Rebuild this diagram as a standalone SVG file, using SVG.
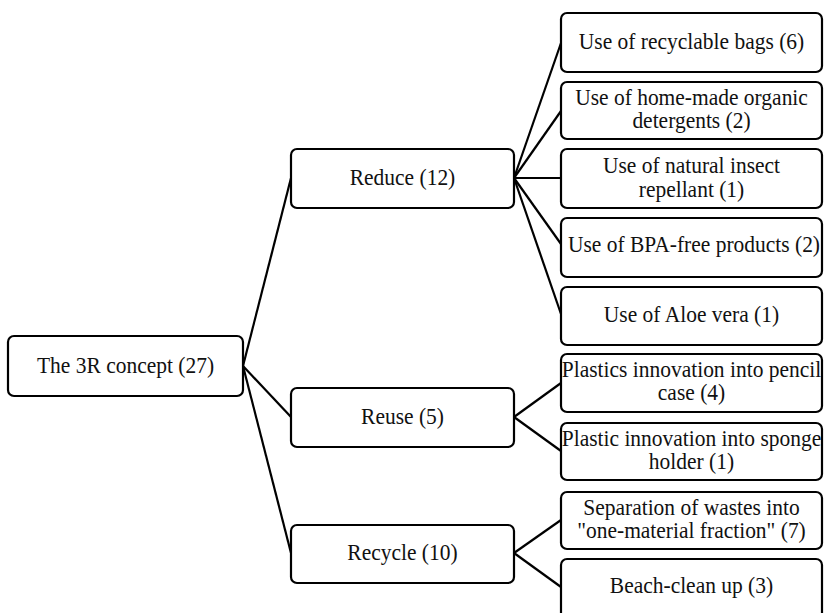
<svg xmlns="http://www.w3.org/2000/svg" width="824" height="613" viewBox="0 0 824 613">
<style>
.box{fill:#fff;stroke:#000;stroke-width:2.2}
.t{font-family:"Liberation Serif","Times New Roman",serif;font-size:24px;fill:#111;text-anchor:middle}
.c{stroke:#000;stroke-width:2.2;fill:none}
</style>
<rect width="824" height="613" fill="#fff"/>
<g id="connectors">
<line class="c" x1="243" y1="366" x2="291" y2="178"/>
<line class="c" x1="243" y1="366" x2="291" y2="417"/>
<line class="c" x1="243" y1="366" x2="291" y2="553"/>
<line class="c" x1="514" y1="178" x2="561" y2="43"/>
<line class="c" x1="514" y1="178" x2="561" y2="111"/>
<line class="c" x1="514" y1="178" x2="561" y2="178"/>
<line class="c" x1="514" y1="178" x2="561" y2="244"/>
<line class="c" x1="514" y1="178" x2="561" y2="314"/>
<line class="c" x1="514" y1="417" x2="561" y2="383"/>
<line class="c" x1="514" y1="417" x2="561" y2="451"/>
<line class="c" x1="514" y1="553" x2="561" y2="520"/>
<line class="c" x1="514" y1="553" x2="561" y2="587"/>
</g>
<g id="root">
<rect class="box" x="8" y="336" width="235" height="60" rx="6"/>
<text class="t" transform="translate(125.5 373) scale(0.895 1)">The 3R concept (27)</text>
</g>
<g id="reduce">
<rect class="box" x="291" y="149" width="223" height="59" rx="6"/>
<text class="t" transform="translate(402.5 185) scale(0.895 1)">Reduce (12)</text>
</g>
<g id="reuse">
<rect class="box" x="291" y="388" width="223" height="59" rx="6"/>
<text class="t" transform="translate(402.5 424) scale(0.895 1)">Reuse (5)</text>
</g>
<g id="recycle">
<rect class="box" x="291" y="525" width="223" height="58" rx="6"/>
<text class="t" transform="translate(402.5 560) scale(0.895 1)">Recycle (10)</text>
</g>
<g id="leaf1">
<rect class="box" x="561" y="13" width="261" height="59" rx="6"/>
<text class="t" transform="translate(691.5 48.5) scale(0.895 1)">Use of recyclable bags (6)</text>
</g>
<g id="leaf2">
<rect class="box" x="561" y="82" width="261" height="57" rx="6"/>
<text class="t" transform="translate(691.5 105) scale(0.895 1)">Use of home-made organic</text>
<text class="t" transform="translate(691.5 128) scale(0.895 1)">detergents (2)</text>
</g>
<g id="leaf3">
<rect class="box" x="561" y="149" width="261" height="59" rx="6"/>
<text class="t" transform="translate(691.5 173) scale(0.895 1)">Use of natural insect</text>
<text class="t" transform="translate(691.5 197) scale(0.895 1)">repellant (1)</text>
</g>
<g id="leaf4">
<rect class="box" x="561" y="218" width="261" height="59" rx="6"/>
<text class="t" transform="translate(694 252) scale(0.895 1)">Use of BPA-free products (2)</text>
</g>
<g id="leaf5">
<rect class="box" x="561" y="287" width="261" height="58" rx="6"/>
<text class="t" transform="translate(691.5 322) scale(0.895 1)">Use of Aloe vera (1)</text>
</g>
<g id="leaf6">
<rect class="box" x="561" y="354" width="261" height="58" rx="6"/>
<text class="t" transform="translate(691.5 377) scale(0.895 1)">Plastics innovation into pencil</text>
<text class="t" transform="translate(691.5 400) scale(0.895 1)">case (4)</text>
</g>
<g id="leaf7">
<rect class="box" x="561" y="423" width="261" height="57" rx="6"/>
<text class="t" transform="translate(691.5 446) scale(0.895 1)">Plastic innovation into sponge</text>
<text class="t" transform="translate(691.5 469) scale(0.895 1)">holder (1)</text>
</g>
<g id="leaf8">
<rect class="box" x="561" y="492" width="261" height="57" rx="6"/>
<text class="t" transform="translate(691.5 515) scale(0.895 1)">Separation of wastes into</text>
<text class="t" transform="translate(691.5 538) scale(0.895 1)">"one-material fraction" (7)</text>
</g>
<g id="leaf9">
<rect class="box" x="561" y="559" width="261" height="60" rx="6"/>
<text class="t" transform="translate(691.5 593) scale(0.895 1)">Beach-clean up (3)</text>
</g>
</svg>
